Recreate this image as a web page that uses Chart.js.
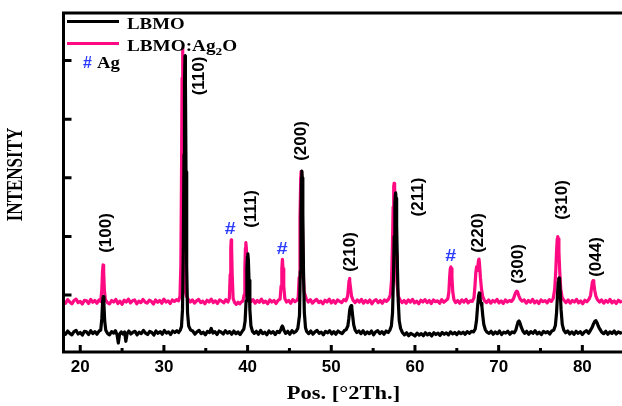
<!DOCTYPE html>
<html><head><meta charset="utf-8">
<script src="https://cdn.jsdelivr.net/npm/chart.js@4.4.0/dist/chart.umd.min.js"></script>
<style>html,body{margin:0;padding:0;background:#fff;}#wrap{width:622px;height:406px;}</style>
</head><body><div id="wrap"><canvas id="c" width="622" height="406"></canvas></div>
<script>
// ---- data: [2theta, intensity] ----
const lbmoScan = [[18.0,365],[18.25,330],[18.5,385],[18.75,345],[19.0,320],[19.25,375],[19.5,395],[19.75,335],[20.0,360],[20.25,315],[20.5,380],[20.75,370],[21.0,325],[21.25,390],[21.5,340],[21.75,375],[22.0,330],[22.25,385],[22.45,400],[22.58,600],[22.67,880],[22.75,971],[22.83,850],[22.92,560],[23.05,400],[23.25,345],[23.5,320],[23.75,375],[24.0,350],[24.2,390],[24.4,320],[24.55,180],[24.7,330],[24.9,370],[25.1,335],[25.3,370],[25.45,210],[25.6,340],[25.8,385],[26.05,335],[26.3,365],[26.55,380],[26.8,320],[27.05,365],[27.3,340],[27.55,395],[27.8,350],[28.05,325],[28.3,380],[28.55,360],[28.8,315],[29.05,385],[29.3,345],[29.55,375],[29.8,330],[30.05,395],[30.3,350],[30.55,370],[30.8,325],[31.05,385],[31.3,360],[31.55,390],[31.75,360],[31.95,400],[32.1,460],[32.22,750],[32.32,1800],[32.4,3400],[32.46,4600],[32.52,5080],[32.57,4600],[32.64,3100],[32.72,1500],[32.82,700],[32.96,470],[33.2,400],[33.45,385],[33.7,330],[33.95,370],[34.2,395],[34.45,340],[34.7,365],[34.95,320],[35.2,380],[35.45,360],[35.65,430],[35.85,350],[36.1,375],[36.35,325],[36.6,385],[36.85,365],[37.1,335],[37.35,390],[37.6,350],[37.85,375],[38.1,330],[38.35,385],[38.6,340],[38.85,370],[39.1,325],[39.35,380],[39.55,420],[39.7,550],[39.82,900],[39.92,1450],[39.98,1650],[40.03,1700],[40.09,1600],[40.17,1250],[40.27,750],[40.4,470],[40.58,380],[40.8,345],[41.05,380],[41.3,330],[41.55,395],[41.8,340],[42.05,365],[42.3,320],[42.55,385],[42.8,350],[43.05,375],[43.3,325],[43.55,380],[43.8,360],[43.98,410],[44.08,455],[44.15,470],[44.23,450],[44.35,395],[44.55,345],[44.8,380],[45.05,330],[45.3,390],[45.55,355],[45.8,380],[46.0,430],[46.2,650],[46.3,1400],[46.38,2400],[46.44,3000],[46.48,3116],[46.53,3000],[46.6,2400],[46.68,1400],[46.78,700],[46.92,440],[47.05,380],[47.3,340],[47.55,385],[47.8,330],[48.05,370],[48.3,395],[48.55,345],[48.8,365],[49.05,320],[49.3,380],[49.55,355],[49.8,390],[50.05,335],[50.3,375],[50.55,330],[50.8,385],[51.05,360],[51.3,340],[51.55,390],[51.78,410],[51.98,470],[52.1,600],[52.2,740],[52.3,800],[52.37,817],[52.45,780],[52.55,650],[52.68,490],[52.85,400],[53.05,360],[53.3,385],[53.55,340],[53.8,390],[54.05,330],[54.3,370],[54.55,340],[54.8,385],[55.05,320],[55.3,370],[55.55,390],[55.8,340],[56.05,375],[56.3,330],[56.55,385],[56.8,360],[57.0,400],[57.18,470],[57.32,700],[57.43,1300],[57.52,2000],[57.6,2550],[57.66,2720],[57.69,2741],[57.74,2650],[57.81,2200],[57.9,1500],[58.0,900],[58.12,560],[58.28,430],[58.5,360],[58.75,320],[59.0,355],[59.25,305],[59.5,345],[59.75,325],[60.0,300],[60.25,350],[60.5,315],[60.75,340],[61.0,305],[61.25,355],[61.5,320],[61.75,345],[62.0,300],[62.25,355],[62.5,325],[62.75,350],[63.0,310],[63.25,360],[63.5,330],[63.75,355],[64.0,320],[64.25,370],[64.5,335],[64.75,360],[65.0,325],[65.25,370],[65.5,340],[65.75,365],[66.0,330],[66.25,375],[66.5,345],[66.75,380],[67.0,370],[67.2,420],[67.35,560],[67.48,800],[67.6,980],[67.68,1034],[67.75,990],[67.83,880],[67.92,860],[68.0,800],[68.1,650],[68.22,500],[68.4,410],[68.6,365],[68.85,345],[69.1,380],[69.35,330],[69.6,370],[69.85,340],[70.1,385],[70.35,325],[70.6,365],[70.85,350],[71.1,380],[71.35,330],[71.6,370],[71.85,355],[72.05,400],[72.2,480],[72.32,540],[72.44,556],[72.56,520],[72.7,450],[72.88,390],[73.1,345],[73.35,380],[73.6,330],[73.85,375],[74.1,345],[74.35,390],[74.6,335],[74.85,365],[75.1,325],[75.35,380],[75.6,355],[75.85,375],[76.1,335],[76.35,385],[76.58,400],[76.78,480],[76.92,700],[77.03,1000],[77.12,1220],[77.18,1280],[77.22,1290],[77.28,1240],[77.36,1050],[77.46,750],[77.6,500],[77.78,400],[78.0,355],[78.25,385],[78.5,335],[78.75,370],[79.0,330],[79.25,380],[79.5,345],[79.75,375],[80.0,325],[80.25,370],[80.5,390],[80.75,345],[80.98,400],[81.18,450],[81.35,510],[81.5,550],[81.62,561],[81.75,530],[81.9,470],[82.08,420],[82.3,370],[82.55,340],[82.8,380],[83.05,330],[83.3,370],[83.55,345],[83.8,385],[84.05,335],[84.3,370],[84.55,350],[84.74,365]];

const lbmoAgScan = [[18.0,895],[18.25,860],[18.5,920],[18.75,880],[19.0,850],[19.25,905],[19.5,930],[19.75,870],[20.0,890],[20.25,845],[20.5,910],[20.75,900],[21.0,855],[21.25,925],[21.5,875],[21.75,905],[22.0,860],[22.25,915],[22.45,890],[22.58,1100],[22.66,1400],[22.73,1512],[22.8,1400],[22.88,1100],[23.0,920],[23.25,870],[23.5,850],[23.75,905],[24.0,880],[24.25,925],[24.5,855],[24.75,895],[25.0,840],[25.25,910],[25.5,880],[25.75,930],[26.0,865],[26.25,900],[26.5,915],[26.75,850],[27.0,895],[27.25,870],[27.5,925],[27.75,880],[28.0,860],[28.25,910],[28.5,890],[28.75,845],[29.0,915],[29.25,875],[29.5,905],[29.75,860],[30.0,930],[30.25,880],[30.5,900],[30.75,855],[31.0,915],[31.25,890],[31.5,920],[31.75,900],[31.92,980],[32.02,1500],[32.1,3000],[32.17,4700],[32.22,5210],[32.27,4700],[32.34,3100],[32.42,1600],[32.52,1100],[32.68,980],[32.9,930],[33.15,880],[33.4,915],[33.65,860],[33.9,900],[34.15,925],[34.4,870],[34.65,895],[34.9,850],[35.15,910],[35.4,880],[35.65,930],[35.9,870],[36.15,900],[36.4,855],[36.65,915],[36.9,895],[37.15,865],[37.4,920],[37.65,880],[37.82,940],[37.92,1350],[37.99,1800],[38.04,1939],[38.09,1800],[38.16,1350],[38.27,940],[38.45,870],[38.65,840],[38.85,875],[39.05,850],[39.25,880],[39.45,900],[39.58,1000],[39.67,1450],[39.74,1800],[39.79,1892],[39.85,1800],[39.93,1400],[40.03,1100],[40.18,960],[40.4,890],[40.65,920],[40.9,860],[41.15,905],[41.4,875],[41.65,930],[41.9,870],[42.15,895],[42.4,850],[42.65,915],[42.9,880],[43.15,905],[43.4,855],[43.65,910],[43.88,930],[44.0,1150],[44.09,1450],[44.16,1609],[44.23,1450],[44.32,1150],[44.45,940],[44.65,880],[44.9,905],[45.15,860],[45.4,920],[45.65,885],[45.9,910],[46.05,960],[46.16,1300],[46.26,2300],[46.35,3000],[46.4,3108],[46.46,3000],[46.54,2300],[46.64,1400],[46.76,1050],[47.0,940],[47.25,880],[47.5,920],[47.75,860],[48.0,900],[48.25,925],[48.5,870],[48.75,895],[49.0,850],[49.25,910],[49.5,880],[49.75,930],[50.0,865],[50.25,905],[50.5,860],[50.75,915],[51.0,890],[51.25,870],[51.5,920],[51.75,900],[51.95,980],[52.05,1120],[52.12,1240],[52.17,1285],[52.23,1240],[52.3,1120],[52.42,980],[52.6,910],[52.85,870],[53.1,915],[53.35,880],[53.6,925],[53.85,860],[54.1,905],[54.35,870],[54.6,915],[54.85,850],[55.1,900],[55.35,920],[55.6,870],[55.85,905],[56.1,860],[56.35,915],[56.6,890],[56.85,930],[57.05,1000],[57.2,1250],[57.3,1800],[57.39,2500],[57.46,2850],[57.51,2906],[57.57,2850],[57.65,2400],[57.74,1700],[57.85,1200],[58.0,980],[58.2,920],[58.45,870],[58.7,905],[58.95,860],[59.2,915],[59.45,880],[59.7,925],[59.95,865],[60.2,895],[60.45,850],[60.7,910],[60.95,880],[61.2,920],[61.45,870],[61.7,905],[61.95,855],[62.2,915],[62.45,885],[62.7,900],[62.95,860],[63.2,920],[63.45,875],[63.7,905],[63.92,930],[64.05,1050],[64.14,1300],[64.22,1450],[64.28,1478],[64.34,1450],[64.42,1300],[64.52,1050],[64.66,920],[64.85,870],[65.1,905],[65.35,860],[65.6,915],[65.85,880],[66.1,925],[66.35,865],[66.6,900],[66.85,890],[67.05,950],[67.17,1150],[67.27,1380],[67.36,1478],[67.44,1420],[67.52,1500],[67.6,1600],[67.65,1614],[67.72,1520],[67.82,1300],[67.95,1100],[68.1,970],[68.3,905],[68.55,870],[68.8,915],[69.05,860],[69.3,905],[69.55,880],[69.8,925],[70.05,865],[70.3,900],[70.55,855],[70.8,915],[71.05,880],[71.3,905],[71.55,890],[71.78,940],[71.95,1010],[72.08,1055],[72.16,1068],[72.26,1050],[72.4,990],[72.58,930],[72.8,895],[73.05,915],[73.3,860],[73.55,905],[73.8,875],[74.05,925],[74.3,865],[74.55,900],[74.8,855],[75.05,915],[75.3,885],[75.55,905],[75.8,865],[76.05,920],[76.3,890],[76.52,940],[76.7,1100],[76.82,1400],[76.92,1750],[77.0,1960],[77.06,1995],[77.12,1960],[77.2,1750],[77.3,1400],[77.42,1100],[77.58,960],[77.8,910],[78.05,870],[78.3,915],[78.55,860],[78.8,905],[79.05,880],[79.3,925],[79.55,865],[79.8,900],[80.05,850],[80.3,910],[80.55,885],[80.8,930],[80.98,990],[81.1,1120],[81.2,1220],[81.28,1244],[81.37,1200],[81.48,1080],[81.62,980],[81.8,920],[82.05,880],[82.3,915],[82.55,860],[82.8,905],[83.05,875],[83.3,925],[83.55,865],[83.8,900],[84.05,855],[84.3,910],[84.55,880],[84.74,900]];

const seriesNames = ['LBMO', 'LBMO:Ag', '2', 'O'];
const xTicks = [20, 30, 40, 50, 60, 70, 80];
const xMinorTicks = [25, 35, 45, 55, 65, 75];
const yTicks = [1000, 2000, 3000, 4000, 5000];
const hklLabels = ['(100)', '(110)', '(111)', '(200)', '(210)', '(211)', '(220)', '(300)', '(310)', '(044)'];
const hklTheta  = [23.11, 34.21, 40.43, 46.40, 52.25, 60.37, 67.54, 72.32, 77.57, 81.63];
const hklCounts = [2058, 4737, 2468, 3628, 1734, 2672, 2058, 1529, 2621, 1648];
const agMarkTheta  = [37.92, 44.13, 64.28];
const agMarkCounts = [2118, 1785, 1666];

const BLACK = '#000000', PINK = '#ff0a82', BLUE = '#2b3cff';

function drawText(ctx, s, x, y, font, color, align, baseline, sx, sy, rot) {
  ctx.save();
  ctx.translate(x, y);
  if (rot) ctx.rotate(rot);
  ctx.scale(sx || 1, sy || 1);
  ctx.font = font; ctx.fillStyle = color;
  ctx.textAlign = align; ctx.textBaseline = baseline;
  ctx.fillText(s, 0, 0);
  ctx.restore();
}

const framePlugin = {
  id: 'frame',
  afterDraw(chart) {
    const { ctx, chartArea: a, scales: { x, y } } = chart;
    ctx.save();
    ctx.strokeStyle = BLACK; ctx.lineWidth = 3; ctx.lineCap = 'butt';
    ctx.beginPath();
    ctx.moveTo(a.right + 2, a.top); ctx.lineTo(a.left, a.top);
    ctx.lineTo(a.left, a.bottom); ctx.lineTo(a.right + 2, a.bottom);
    ctx.stroke();
    ctx.beginPath();
    xTicks.forEach(v => { const p = x.getPixelForValue(v); ctx.moveTo(p, a.bottom); ctx.lineTo(p, a.bottom - 7); });
    xMinorTicks.forEach(v => { const p = x.getPixelForValue(v); ctx.moveTo(p, a.bottom); ctx.lineTo(p, a.bottom - 4); });
    yTicks.forEach(v => { const p = y.getPixelForValue(v); ctx.moveTo(a.left, p); ctx.lineTo(a.left + 8, p); });
    ctx.stroke();

    // legend
    ctx.lineWidth = 3;
    ctx.strokeStyle = BLACK; ctx.beginPath(); ctx.moveTo(67, 21.5); ctx.lineTo(119, 21.5); ctx.stroke();
    ctx.strokeStyle = PINK; ctx.beginPath(); ctx.moveTo(67, 43.5); ctx.lineTo(119, 43.5); ctx.stroke();
    const lf = 'bold 16px "Liberation Serif"';
    drawText(ctx, seriesNames[0], 127, 28.5, lf, BLACK, 'left', 'alphabetic', 1.18, 1);
    ctx.font = lf;
    const w1 = ctx.measureText(seriesNames[1]).width * 1.2;
    drawText(ctx, seriesNames[1], 127, 50.5, lf, BLACK, 'left', 'alphabetic', 1.2, 1);
    ctx.font = 'bold 11px "Liberation Serif"';
    const w2 = ctx.measureText(seriesNames[2]).width * 1.2;
    drawText(ctx, seriesNames[2], 127 + w1, 54.5, 'bold 11px "Liberation Serif"', BLACK, 'left', 'alphabetic', 1.2, 1);
    drawText(ctx, seriesNames[3], 127 + w1 + w2, 50.5, lf, BLACK, 'left', 'alphabetic', 1.2, 1);
    drawText(ctx, '#', 83, 67.5, 'bold 16px "Liberation Sans"', BLUE, 'left', 'alphabetic', 1.0, 1);
    drawText(ctx, 'Ag', 97, 67.5, lf, BLACK, 'left', 'alphabetic', 1.17, 1);

    // axis titles
    drawText(ctx, 'INTENSITY', 16.5, 174.5, 'bold 17px "Liberation Serif"', BLACK, 'center', 'middle', 1, 1.35, -Math.PI / 2);
    drawText(ctx, 'Pos. [°2Th.]', 343.5, 394, 'bold 18px "Liberation Serif"', BLACK, 'center', 'middle', 1.25, 1);

    // peak labels
    hklLabels.forEach((s, i) => {
      drawText(ctx, s, x.getPixelForValue(hklTheta[i]), y.getPixelForValue(hklCounts[i]),
        'bold 17px "Liberation Sans"', BLACK, 'center', 'middle', 1, 1, -Math.PI / 2);
    });
    agMarkTheta.forEach((t, i) => {
      drawText(ctx, '#', x.getPixelForValue(t), y.getPixelForValue(agMarkCounts[i]),
        'bold 17px "Liberation Sans"', BLUE, 'center', 'middle', 1.15, 1);
    });
    ctx.restore();
  }
};

const toXY = arr => arr.map(p => ({ x: p[0], y: p[1] }));

new Chart(document.getElementById('c'), {
  type: 'line',
  data: {
    datasets: [
      { label: 'LBMO', data: toXY(lbmoScan), borderColor: BLACK, borderWidth: 3.2, pointRadius: 0, tension: 0, fill: false, borderJoinStyle: 'round' },
      { label: 'LBMO:Ag2O', data: toXY(lbmoAgScan), borderColor: PINK, borderWidth: 3.2, pointRadius: 0, tension: 0, fill: false, borderJoinStyle: 'round' }
    ]
  },
  options: {
    responsive: false, animation: false,
    layout: { padding: { top: 13, right: 0, left: 0, bottom: 0 } },
    plugins: { legend: { display: false }, tooltip: { enabled: false } },
    scales: {
      x: {
        type: 'linear', min: 18, max: 84.74,
        afterBuildTicks: s => { s.ticks = xTicks.map(v => ({ value: v })); },
        grid: { display: false, drawTicks: false }, border: { display: false },
        ticks: { color: BLACK, padding: 5, maxRotation: 0, autoSkip: false,
                 font: { family: 'Liberation Sans', weight: 'bold', size: 17 } },
        afterFit: s => { s.height = 54; }
      },
      y: {
        type: 'linear', min: 27, max: 5812,
        afterBuildTicks: s => { s.ticks = yTicks.map(v => ({ value: v })); },
        grid: { display: false, drawTicks: false }, border: { display: false },
        ticks: { display: false },
        afterFit: s => { s.width = 63.5; }
      }
    }
  },
  plugins: [framePlugin]
});
</script>
</body></html>
